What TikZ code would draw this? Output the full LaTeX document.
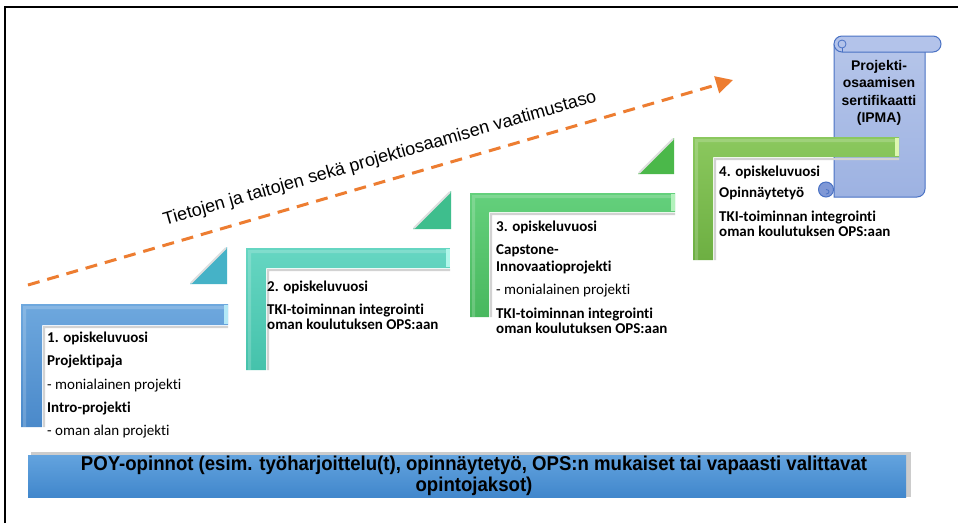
\documentclass[tikz,border=0pt]{standalone}
\usepackage{fontspec}
\setmainfont{Liberation Sans}
\newfontfamily\calib[Ligatures=NoCommon]{Carlito}
\newfontfamily\narrowbold[FakeStretch=0.93]{Liberation Sans Bold}
\usetikzlibrary{arrows.meta}

\definecolor{frameblack}{HTML}{000000}
\definecolor{arroworange}{HTML}{ED7D31}
\definecolor{scrollfill}{HTML}{9DB2E2}
\definecolor{scrolltop}{HTML}{B3C3EA}
\definecolor{scrolldark}{HTML}{7F98D6}
\definecolor{scrollline}{HTML}{4A72C4}
\definecolor{barblueA}{HTML}{6EA8DE}
\definecolor{barblueB}{HTML}{4A89CA}
\definecolor{barblueH}{HTML}{B3E8F7}
\definecolor{barteaA}{HTML}{66D6C2}
\definecolor{barteaB}{HTML}{45C2AB}
\definecolor{barteaH}{HTML}{B0F7EA}
\definecolor{bargreA}{HTML}{64D07C}
\definecolor{bargreB}{HTML}{48B85E}
\definecolor{bargreH}{HTML}{B3F2BC}
\definecolor{barlimA}{HTML}{8BC85E}
\definecolor{barlimB}{HTML}{6DAF42}
\definecolor{barlimH}{HTML}{DDF7B0}
\definecolor{triA}{HTML}{45B2C7}
\definecolor{triB}{HTML}{3EBE8D}
\definecolor{triC}{HTML}{4BB84A}
\definecolor{poyA}{HTML}{63A3DE}
\definecolor{poyB}{HTML}{4187CC}

% L-shaped step: #1 outer x, #2 outer y, #3 right end, #4 thickness, #5 bottom, #6/#7/#8 colours
\newcommand{\stepL}[8]{%
  \fill[gray!35] (#1+#4+1,#5) -- (#1+#4+1,#2+#4+1) -- (#3,#2+#4+1) -- (#3,#2+#4+3) -- (#1+#4+3,#2+#4+3) -- (#1+#4+3,#5) -- cycle;
  \shade[top color=#6, bottom color=#7]
    (#1,#2) -- (#3,#2) -- (#3,#2+#4) -- (#1+#4,#2+#4) -- (#1+#4,#5) -- (#1,#5) -- cycle;
  \fill[#8] (#3-4,#2+1) rectangle (#3,#2+#4-1);
  \fill[white,opacity=0.18] (#1+2,#2+2) -- (#3-4,#2+2) -- (#3-4,#2+5) -- (#1+5,#2+5) -- (#1+5,#5) -- (#1+2,#5) -- cycle;
}
% right-angled corner triangle with a pale fold along its slope
\newcommand{\cornertri}[4]{%
  \fill[#4] (#1,#2) -- (#3,#2) -- (#3,#2-#3+#1) -- cycle;
  \draw[gray!25,line width=2pt] (#1+1,#2-1) -- (#3-1,#2-#3+#1+1);
}

\tikzset{
  line1/.style={anchor=base west, inner sep=0pt, font=\calib\bfseries\fontsize{15}{17}\selectfont},
  line2/.style={anchor=base west, inner sep=0pt, font=\calib\fontsize{15}{17}\selectfont},
}

\begin{document}
\begin{tikzpicture}[x=1pt,y=-1pt]
\useasboundingbox (0,0) rectangle (958,523);
\fill[white] (0,0) rectangle (958,523);

% outer frame
\draw[frameblack,line width=2.2pt] (5,523) -- (5,7) -- (958,7);

% certificate scroll
\shade[top color=scrollfill!75!white, bottom color=scrollfill, draw=scrollline, line width=1pt]
  (834,44) -- (834,197) -- (917,197) .. controls (921.4,197) and (925,193.4) .. (925,189) -- (925,44) -- cycle;
\fill[scrolldark, draw=scrollline, line width=1pt] (826,189.5) circle[radius=7.5];
\draw[scrollline, line width=0.8pt] (826,189.5) .. controls (830,189.5) and (830,194) .. (826,194);
\fill[scrolltop, draw=scrollline, line width=1pt, rounded corners=8pt] (834,36) rectangle (941,52);
\draw[scrollline, line width=0.8pt] (842,44) circle[radius=4];
\draw[scrollline, line width=0.8pt] (842,48) -- (842,52);
\node[font=\bfseries\fontsize{14}{17.5}\selectfont, align=center] (cert) at (879,93)
  {Projekti-\\osaamisen\\sertifikaatti\\(IPMA)};

% rising demand arrow and its caption
\coordinate (arrS) at (28,285);
\coordinate (arrE) at (733,80);
\draw[arroworange, line width=3pt, dash pattern=on 12pt off 8pt,
      -{Triangle[length=17pt,width=17pt]}] (arrS) -- (arrE);
\node[font=\fontsize{18}{20}\selectfont, rotate=16] (level) at (380,159)
  {Tietojen ja taitojen sekä projektiosaamisen vaatimustaso};

% steps
\stepL{21}{304}{228}{21}{427}{barblueA}{barblueB}{barblueH}
\stepL{246}{248}{450}{20}{370}{barteaA}{barteaB}{barteaH}
\stepL{470}{193}{675}{19}{317}{bargreA}{bargreB}{bargreH}
\stepL{693}{137}{899}{20}{260}{barlimA}{barlimB}{barlimH}

\cornertri{190}{284}{227}{triA}
\cornertri{413}{229}{451}{triB}
\cornertri{638}{174}{674}{triC}

% step texts
\node[line1] (y1a) at (47,342) {1. opiskeluvuosi};
\node[line1] (y1b) at (47,365) {Projektipaja};
\node[line2] (y1c) at (47,389) {- monialainen projekti};
\node[line1] (y1d) at (47,412) {Intro-projekti};
\node[line2] (y1e) at (47,435) {- oman alan projekti};

\node[line1] (y2a) at (267,291) {2. opiskeluvuosi};
\node[line1] (y2b) at (267,314) {TKI-toiminnan integrointi};
\node[line1] (y2c) at (267,329) {oman koulutuksen OPS:aan};

\node[line1] (y3a) at (496,231) {3. opiskeluvuosi};
\node[line1] (y3b) at (496,254) {Capstone-};
\node[line1] (y3c) at (496,271) {Innovaatioprojekti};
\node[line2] (y3d) at (496,294) {- monialainen projekti};
\node[line1] (y3e) at (496,318) {TKI-toiminnan integrointi};
\node[line1] (y3f) at (496,333) {oman koulutuksen OPS:aan};

\node[line1] (y4a) at (719,176) {4. opiskeluvuosi};
\node[line1] (y4b) at (719,197) {Opinnäytetyö};
\node[line1] (y4c) at (719,221) {TKI-toiminnan integrointi};
\node[line1] (y4d) at (719,236) {oman koulutuksen OPS:aan};

% POY bar
\fill[gray!40] (31,452) rectangle (911,497);
\shade[top color=poyA, bottom color=poyB] (28,455) rectangle (906,497);
\node[font=\narrowbold\fontsize{20}{21}\selectfont, align=center] (poy) at (474,476)
  {POY-opinnot (esim. työharjoittelu(t), opinnäytetyö, OPS:n mukaiset tai vapaasti valittavat\\opintojaksot)};
\end{tikzpicture}
\end{document}
